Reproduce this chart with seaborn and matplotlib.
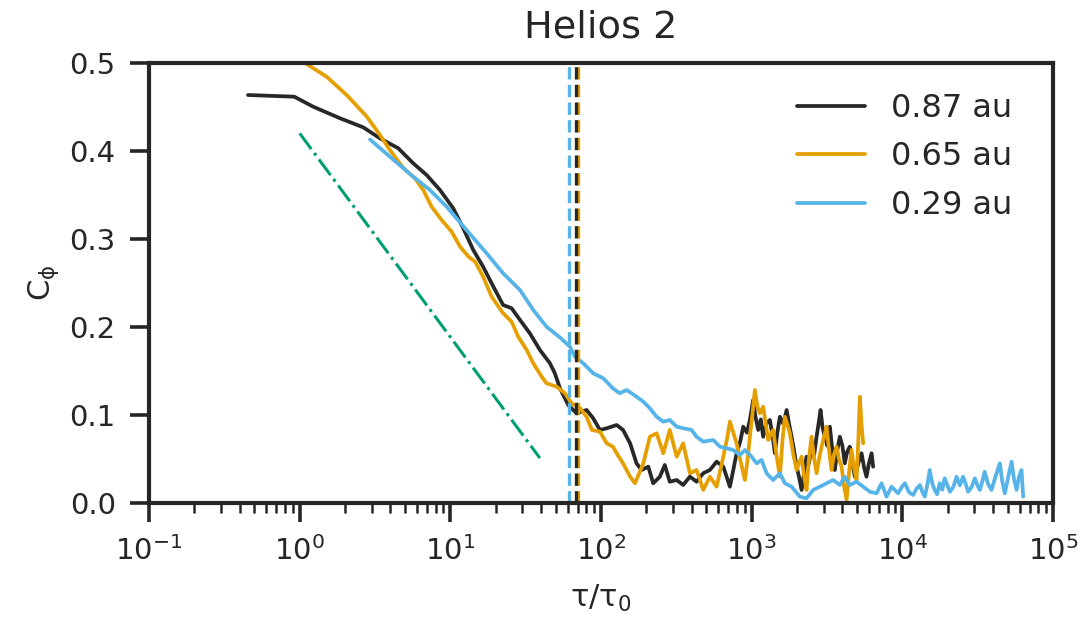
import numpy as np
import pandas as pd
import matplotlib
matplotlib.use("Agg")
import matplotlib.pyplot as plt
import seaborn as sns
from matplotlib.ticker import FixedLocator, LogLocator, NullFormatter, LogFormatterSciNotation

# ---------------- data ----------------
tau_087 = [0.454, 0.92, 1.23, 1.85, 2.64, 3.41, 4.51, 5.67, 6.96, 8.53, 10.45, 12.18, 14.19,
           16.5, 19.3, 22.4, 25.5, 29.0, 33.7, 39.3, 45.8, 49.4, 53.4, 60.6, 68.9, 80.2, 88.7,
           98.4, 109, 127, 140, 156, 172, 186, 206, 222, 246, 265, 286, 318, 351, 389, 431,
           477, 528, 585, 648, 717, 760, 794, 840, 879, 930, 973, 1023, 1060, 1105, 1150, 1192,
           1250, 1321, 1380, 1426, 1480, 1539, 1620, 1706, 1770, 1841, 1910, 1987, 2060, 2144,
           2230, 2313, 2400, 2497, 2600, 2697, 2780, 2865, 2960, 3061, 3180, 3304, 3430, 3565,
           3700, 3846, 4000, 4150, 4300, 4480, 4660, 4840, 5100, 5360, 5580, 5780, 6000, 6250,
           6400]
c_087 = [0.4636, 0.4617, 0.4503, 0.4372, 0.4269, 0.4144, 0.4031, 0.386, 0.3727, 0.3557, 0.3349,
         0.3122, 0.2875, 0.2685, 0.2458, 0.225, 0.2213, 0.208, 0.1928, 0.1739, 0.1588, 0.1474,
         0.1303, 0.1114, 0.1019, 0.1057, 0.0963, 0.083, 0.0849, 0.0886, 0.083, 0.0678, 0.0451,
         0.0375, 0.0413, 0.0224, 0.0299, 0.0432, 0.0242, 0.0261, 0.0205, 0.0299, 0.0242, 0.0338,
         0.0375, 0.0469, 0.0413, 0.0185, 0.040, 0.0565, 0.070, 0.0867, 0.080, 0.0943, 0.117,
         0.098, 0.083, 0.095, 0.0753, 0.090, 0.0943, 0.075, 0.0565, 0.080, 0.098, 0.090, 0.1057,
         0.090, 0.0753, 0.060, 0.0413, 0.030, 0.0148, 0.035, 0.0526, 0.045, 0.064, 0.055, 0.0753,
         0.090, 0.1057, 0.085, 0.0753, 0.065, 0.0867, 0.060, 0.0375, 0.060, 0.0753, 0.065, 0.0451,
         0.058, 0.064, 0.045, 0.0299, 0.045, 0.0565, 0.040, 0.0299, 0.045, 0.0565, 0.0413]

tau_065 = [1.0, 1.14, 1.51, 2.05, 2.79, 3.41, 3.97, 4.87, 5.82, 6.61, 7.51, 8.75, 10.2, 11.6,
           13.2, 14.6, 16.5, 18.8, 22.4, 25.5, 28.2, 32.1, 35.5, 40.4, 43.5, 50.7, 57.6, 63.8,
           72.4, 80.2, 87.0, 98.4, 109, 120, 127, 140, 156, 168, 191, 211, 234, 259, 286, 318,
           351, 389, 431, 477, 528, 585, 648, 690, 717, 755, 794, 850, 902, 940, 973, 1010, 1050,
           1090, 1133, 1192, 1240, 1288, 1340, 1389, 1460, 1539, 1600, 1660, 1720, 1793, 1890,
           1987, 2060, 2144, 2230, 2313, 2400, 2497, 2600, 2697, 2800, 2910, 3020, 3141, 3260,
           3390, 3520, 3656, 3800, 3950, 4100, 4265, 4430, 4600, 4780, 4965, 5100, 5225, 5350,
           5495]
c_065 = [0.505, 0.4977, 0.4844, 0.4636, 0.439, 0.4182, 0.4011, 0.3807, 0.369, 0.3557, 0.3367,
         0.3216, 0.3083, 0.2913, 0.2799, 0.2742, 0.2572, 0.2344, 0.2156, 0.206, 0.189, 0.1739,
         0.1588, 0.1435, 0.136, 0.1322, 0.1247, 0.1133, 0.108, 0.098, 0.083, 0.081, 0.0678,
         0.064, 0.0565, 0.0451, 0.0299, 0.0224, 0.0451, 0.0753, 0.0792, 0.0565, 0.083, 0.0526,
         0.0678, 0.0338, 0.0375, 0.0148, 0.0299, 0.0185, 0.0526, 0.075, 0.0924, 0.080, 0.0678,
         0.045, 0.0261, 0.050, 0.0753, 0.100, 0.1284, 0.110, 0.1019, 0.1094, 0.090, 0.0716,
         0.078, 0.083, 0.055, 0.0299, 0.070, 0.098, 0.090, 0.0792, 0.055, 0.0375, 0.045, 0.0526,
         0.030, 0.0148, 0.050, 0.0753, 0.050, 0.0338, 0.050, 0.064, 0.075, 0.0867, 0.060, 0.0375,
         0.055, 0.064, 0.050, 0.0413, 0.020, 0.0034, 0.035, 0.0602, 0.040, 0.0261, 0.070, 0.1208,
         0.090, 0.0678]

tau_029 = [2.93, 3.97, 5.67, 7.32, 9.45, 12.5, 17.4, 22.4, 29.0, 35.5, 43.5, 53.4, 62.2, 67.1,
           76.2, 88.7, 103.5, 120, 133, 148, 172, 191, 211, 234, 259, 286, 318, 351, 399, 431,
           477, 556, 615, 681, 754, 835, 902, 998, 1079, 1164, 1256, 1389, 1539, 1660, 1841,
           2089, 2313, 2560, 2837, 3141, 3475, 3846, 4150, 4480, 4965, 5495, 6085, 6745, 7280,
           7855, 8475, 9375, 9900, 10400, 11100, 11800, 12400, 13100, 13600, 14100, 14700,
           15200, 15800, 16400, 17000, 17700, 18400, 19100, 19900, 20700, 21800, 22900, 24100,
           25300, 26300, 27300, 28800, 30300, 31500, 32700, 34000, 35200, 37000, 39100, 41500,
           44400, 46000, 47900, 50500, 53100, 55000, 57300, 59500, 61800, 63400]
c_029 = [0.413, 0.3935, 0.3708, 0.3557, 0.3367, 0.3122, 0.2838, 0.261, 0.242, 0.2193, 0.2003,
         0.1881, 0.1776, 0.1663, 0.1588, 0.1474, 0.1417, 0.1303, 0.1247, 0.1284, 0.1208, 0.1151,
         0.1076, 0.098, 0.0924, 0.0943, 0.0867, 0.0849, 0.083, 0.0753, 0.0697, 0.0716, 0.064,
         0.0622, 0.0602, 0.0545, 0.0602, 0.0526, 0.0451, 0.0489, 0.0338, 0.0261, 0.0338, 0.0224,
         0.0185, 0.0072, 0.0053, 0.0148, 0.0185, 0.0224, 0.0261, 0.0205, 0.0299, 0.0205, 0.0242,
         0.0185, 0.0128, 0.011, 0.0224, 0.0072, 0.0185, 0.011, 0.018, 0.0224, 0.012, 0.0091,
         0.016, 0.0205, 0.012, 0.0072, 0.022, 0.0375, 0.022, 0.0148, 0.010, 0.0224, 0.015, 0.0281,
         0.020, 0.0128, 0.018, 0.0299, 0.020, 0.0299, 0.022, 0.0128, 0.018, 0.0281, 0.020, 0.0148,
         0.025, 0.0356, 0.022, 0.0148, 0.030, 0.0451, 0.025, 0.011, 0.030, 0.0469, 0.028, 0.0148,
         0.030, 0.0375, 0.0072]

labels = ["0.87 au", "0.65 au", "0.29 au"]
colors = ["#282828", "#E69F00", "#56B4E9"]

# reference slope line (dash-dot)
ref_tau = [1.0, 39.3]
ref_c = [0.42, 0.051]

# correlation times (vertical dashed lines): 0.87, 0.65, 0.29 au
tc_values = [68.1, 69.9, 61.4]

# axis ticks
x_ticks = [1e-1, 1e0, 1e1, 1e2, 1e3, 1e4, 1e5]
y_ticks = [0.0, 0.1, 0.2, 0.3, 0.4, 0.5]

# ---------------- style ----------------
sns.set_theme(style="ticks")
plt.rcParams.update({
    "font.family": ["DejaVu Sans"],
    "axes.edgecolor": "#262626",
    "axes.linewidth": 3.0,
    "xtick.major.size": 14, "xtick.major.width": 2.6, "xtick.major.pad": 10,
    "xtick.minor.size": 7, "xtick.minor.width": 1.8,
    "ytick.major.size": 14, "ytick.major.width": 2.6, "ytick.major.pad": 10,
    "xtick.color": "#262626", "ytick.color": "#262626",
    "xtick.labelsize": 21, "ytick.labelsize": 21,
    "text.color": "#262626", "axes.labelcolor": "#262626",
})

frames = []
for lab, t, c in zip(labels, [tau_087, tau_065, tau_029], [c_087, c_065, c_029]):
    frames.append(pd.DataFrame({"tau": t, "C": c, "series": lab}))
df = pd.concat(frames, ignore_index=True)

fig = plt.figure(figsize=(10.83, 6.26), dpi=100)
ax = fig.add_axes([0.1376, 0.1965, 0.8347, 0.7029])

sns.lineplot(data=df, x="tau", y="C", hue="series", hue_order=labels,
             palette=dict(zip(labels, colors)), estimator=None, sort=False,
             linewidth=2.7, ax=ax)

sns.lineplot(x=ref_tau, y=ref_c, color="#009E73", linewidth=2.2, ax=ax,
             linestyle="-.", legend=False)

for tc, col in zip([tc_values[2], tc_values[1], tc_values[0]], [colors[2], colors[1], colors[0]]):
    ax.axvline(tc, color=col, linestyle="--", linewidth=2.4)

ax.set_xscale("log")
ax.set_xlim(0.1, 1e5)
ax.set_ylim(0, 0.5)
ax.set_yticks(y_ticks)
ax.xaxis.set_major_locator(FixedLocator(x_ticks))
ax.xaxis.set_major_formatter(LogFormatterSciNotation())
ax.xaxis.set_minor_locator(LogLocator(base=10, subs=np.arange(2, 10), numticks=100))
ax.xaxis.set_minor_formatter(NullFormatter())

ax.set_xlabel("τ/τ$_\\mathregular{0}$", fontsize=22, labelpad=12)
ax.set_ylabel("C$_\\mathregular{ϕ}$", fontsize=22, labelpad=6)
ax.set_title("Helios 2", fontsize=27.5, pad=18)

handles, _ = ax.get_legend_handles_labels()
ax.legend(handles[:3], labels, frameon=False, fontsize=23, loc="upper right",
          bbox_to_anchor=(0.969, 0.961), borderaxespad=0,
          handlelength=2.15, handletextpad=0.8, labelspacing=0.55)

fig.savefig("out.png", dpi=100)
